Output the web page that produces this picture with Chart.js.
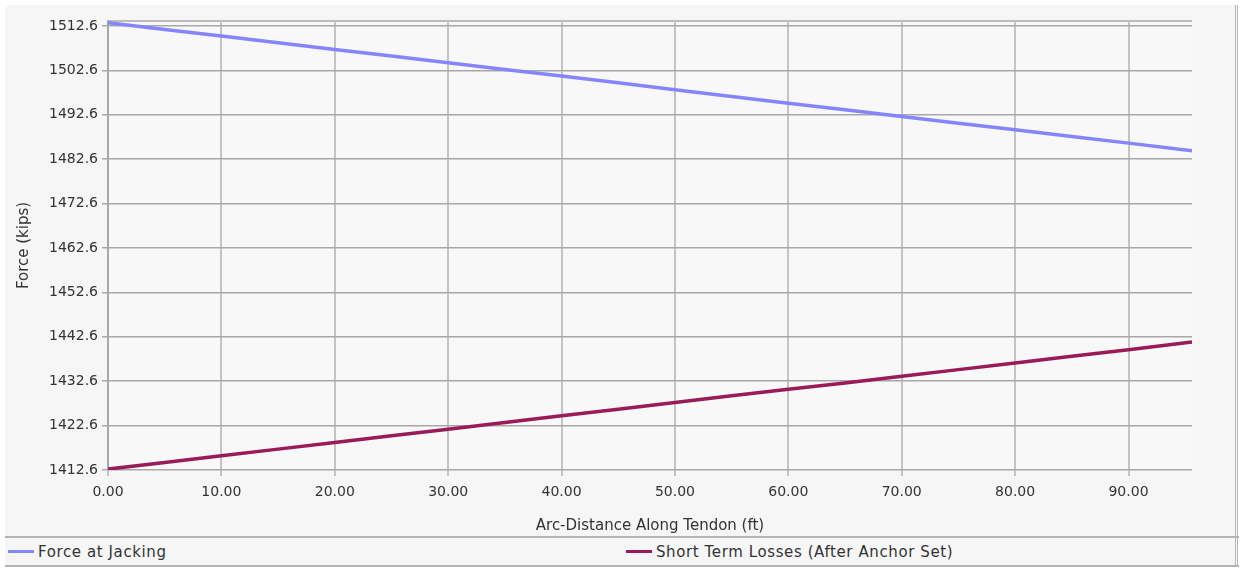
<!DOCTYPE html>
<html>
<head>
<meta charset="utf-8">
<script src="https://cdn.jsdelivr.net/npm/chart.js@4"></script>
<style>
  html, body { margin: 0; padding: 0; background: #ffffff; }
  #frame { position: absolute; left: 5px; top: 5px; width: 1233px; height: 562px; background: #f6f6f6; border-right: 3px double #b8b8b8; box-sizing: border-box; }
  #wrap { position: absolute; left: 0; top: 0; width: 1243px; height: 535px; }
  #legend { position: absolute; left: 5px; top: 536px; width: 1234px; height: 31px; border-top: 2px solid #b4b4b4; border-bottom: 2px solid #b4b4b4; box-sizing: border-box; font-family: "DejaVu Sans", sans-serif; font-size: 15px; letter-spacing: 0.6px; color: #333; }
  .item { position: absolute; top: 5px; white-space: nowrap; }
  .sw { display: inline-block; width: 26px; height: 3px; vertical-align: middle; margin-right: 4px; position: relative; top: -1px; }
</style>
</head>
<body>
<div id="frame"></div>
<div id="wrap"><canvas id="c" width="1243" height="535"></canvas></div>
<div id="legend">
  <div class="item" style="left:3px"><span class="sw" style="background:#8585ff"></span>Force at Jacking</div>
  <div class="item" style="left:621px"><span class="sw" style="background:#9b1a58"></span>Short Term Losses (After Anchor Set)</div>
</div>
<script>
const distance = [0, 5, 10, 15, 20, 25, 30, 35, 40, 45, 50, 55, 60, 65, 70, 75, 80, 85, 90, 95.6];
const forceAtJacking = [1513.3, 1511.8, 1510.3, 1508.8, 1507.3, 1505.8, 1504.3, 1502.8, 1501.3, 1499.8, 1498.2, 1496.7, 1495.2, 1493.7, 1492.2, 1490.7, 1489.2, 1487.7, 1486.2, 1484.5];
const shortTermLosses = [1412.8, 1414.3, 1415.8, 1417.3, 1418.8, 1420.3, 1421.8, 1423.3, 1424.8, 1426.3, 1427.8, 1429.3, 1430.8, 1432.2, 1433.7, 1435.2, 1436.7, 1438.2, 1439.7, 1441.4];
const yTicks = [1412.6, 1422.6, 1432.6, 1442.6, 1452.6, 1462.6, 1472.6, 1482.6, 1492.6, 1502.6, 1512.6];
const xTicks = [0, 10, 20, 30, 40, 50, 60, 70, 80, 90];
const seriesNames = ["Force at Jacking", "Short Term Losses (After Anchor Set)"];

const toPts = arr => distance.map((d, i) => ({ x: d, y: arr[i] }));
const tickFont = { family: "DejaVu Sans", size: 14 };
const titleFont = { family: "DejaVu Sans", size: 15 };

const plotBg = {
  id: 'plotBg',
  beforeDraw(chart) {
    const { ctx, chartArea: a } = chart;
    ctx.save();
    ctx.fillStyle = '#f8f8f8';
    ctx.fillRect(a.left, a.top, a.right - a.left, a.bottom - a.top);
    ctx.strokeStyle = '#a8a8a8';
    ctx.lineWidth = 1.5;
    ctx.beginPath();
    ctx.moveTo(a.left, a.top);
    ctx.lineTo(a.right, a.top);
    ctx.stroke();
    ctx.restore();
  }
};

new Chart(document.getElementById('c'), {
  type: 'line',
  data: {
    datasets: [
      { label: seriesNames[0], data: toPts(forceAtJacking), borderColor: '#8585ff', borderWidth: 3.5, pointRadius: 0, tension: 0 },
      { label: seriesNames[1], data: toPts(shortTermLosses), borderColor: '#9b1a58', borderWidth: 3.5, pointRadius: 0, tension: 0 }
    ]
  },
  plugins: [plotBg],
  options: {
    responsive: false,
    animation: false,
    layout: { padding: { top: 21, right: 51, left: 15, bottom: 0 } },
    plugins: { legend: { display: false }, tooltip: { enabled: false } },
    scales: {
      x: {
        type: 'linear', min: 0, max: 95.6,
        afterBuildTicks: s => { s.ticks = xTicks.map(v => ({ value: v })); },
        afterFit: s => { s.height = 65; },
        ticks: { color: '#333', font: tickFont, padding: 8, maxRotation: 0, callback: v => v.toFixed(2) },
        grid: { color: '#c4c4c4', lineWidth: 2, tickLength: 6, drawTicks: true },
        border: { display: false },
        title: { display: true, text: 'Arc-Distance Along Tendon (ft)', color: '#333', font: titleFont, padding: { top: 2, bottom: 0 } }
      },
      y: {
        type: 'linear', min: 1412.6, max: 1513.7,
        afterBuildTicks: s => { s.ticks = yTicks.map(v => ({ value: v })); },
        afterFit: s => { s.width = 93; },
        ticks: { color: '#333', font: tickFont, padding: 4, callback: v => v.toFixed(1) },
        grid: { color: '#a8a8a8', lineWidth: 1.5, tickLength: 6 },
        border: { display: true, color: '#a8a8a8', width: 2 },
        title: { display: true, text: 'Force (kips)', color: '#333', font: titleFont, padding: { top: 0, bottom: 0 } }
      }
    }
  }
});
</script>
</body>
</html>
